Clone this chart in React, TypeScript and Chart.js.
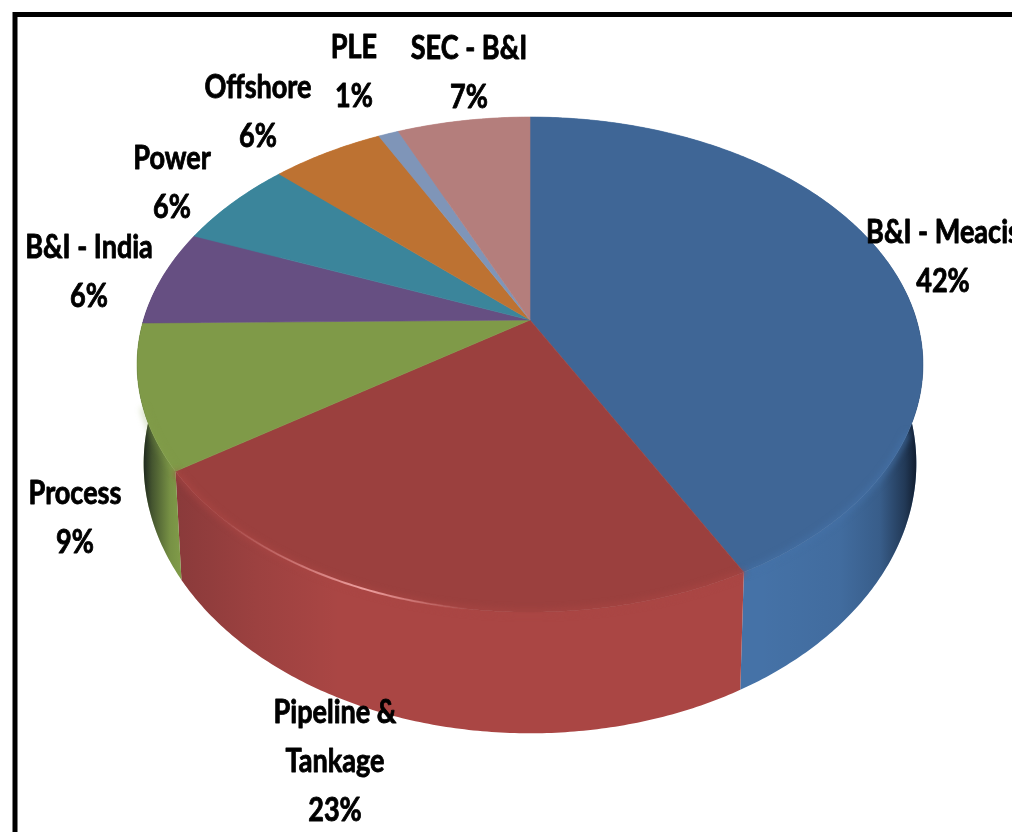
import React, { useEffect, useRef } from "react";
import { Chart, registerables } from "chart.js";

Chart.register(...registerables);

// Data
const categories: (string | string[])[] = [
  "B&I - Meacis",
  ["Pipeline &", "Tankage"],
  "Process",
  "B&I - India",
  "Power",
  "Offshore",
  "PLE",
  "SEC - B&I",
];
const shares = [42.3, 23.1, 9.4, 6.3, 5.9, 5.5, 1.0, 6.5];
const topColors = ["#3F6696", "#9B403E", "#7F9A48", "#664F82", "#3B859B", "#BD7232", "#7F95B8", "#B47E7C"];
const wallColors = ["#4572A7", "#AA4644", "#84A04A", "#71588F", "#4198AF", "#DB843D", "#93A9CF", "#D19392"];

// Layout of the 3D projection and of the labels
const topPlane = { x0: 530, y0: 320, rx: 386.5, ry: 239.5, k: 0.18 };
const basePlane = { x0: 530, y0: 415, rx: 380, ry: 261, k: 0.18 };
const labelCenters = [
  [943, 232],
  [335, 712],
  [75, 493],
  [89, 247],
  [172, 158],
  [258, 87],
  [354, 47],
  [469, 48],
];
const LINE_STEP = 49;
const FONT = 'bold 33px Lato, "Liberation Sans", sans-serif';
const TEXT_SQUEEZE = 0.82;

type Plane = typeof topPlane;
const project = (p: Plane, a: number) => {
  const u = Math.cos(a);
  const v = -Math.sin(a);
  const w = 1 + p.k * v;
  return [p.x0 + (p.rx * u) / w, p.y0 - (p.ry * v) / w];
};
const samples = (start: number, end: number) => {
  const n = Math.max(2, Math.ceil((end - start) / 0.01));
  const out: number[] = [];
  for (let i = 0; i <= n; i++) out.push(start + ((end - start) * i) / n);
  return out;
};

const pie3d = {
  id: "pie3d",
  beforeDatasetDraw(chart: any) {
    const ctx: CanvasRenderingContext2D = chart.ctx;
    const arcs = chart.getDatasetMeta(0).data;
    ctx.save();
    // walls
    arcs.forEach((arc: any, i: number) => {
      const angles = samples(arc.startAngle, arc.endAngle);
      ctx.beginPath();
      angles.forEach((a, j) => {
        const [x, y] = project(topPlane, a);
        j ? ctx.lineTo(x, y) : ctx.moveTo(x, y);
      });
      [...angles].reverse().forEach((a) => {
        const [x, y] = project(basePlane, a);
        ctx.lineTo(x, y);
      });
      ctx.closePath();
      ctx.fillStyle = wallColors[i];
      ctx.fill();
      const g = ctx.createLinearGradient(136, 0, 926, 0);
      const stop = (x: number, al: number) => g.addColorStop((x - 136) / 790, `rgba(5,10,20,${al})`);
      if (i === 1) {
        stop(172, 0.2);
        stop(260, 0.08);
        stop(340, 0);
        stop(926, 0);
      } else {
        stop(142, 0.85);
        stop(152, 0.5);
        stop(170, 0.1);
        stop(185, 0);
        stop(760, 0);
        stop(840, 0.06);
        stop(880, 0.2);
        stop(905, 0.55);
        stop(918, 0.85);
      }
      ctx.fillStyle = g;
      ctx.fill();
    });
    // top surface
    arcs.forEach((arc: any, i: number) => {
      ctx.beginPath();
      ctx.moveTo(topPlane.x0, topPlane.y0);
      samples(arc.startAngle, arc.endAngle).forEach((a) => {
        const [x, y] = project(topPlane, a);
        ctx.lineTo(x, y);
      });
      ctx.closePath();
      ctx.fillStyle = topColors[i];
      ctx.fill();
      ctx.strokeStyle = topColors[i];
      ctx.lineWidth = 0.6;
      ctx.stroke();
    });
    // soft bevel where the top surface meets the front wall
    ctx.filter = "blur(3px)";
    arcs.slice(0, 3).forEach((arc: any, i: number) => {
      const front = samples(Math.max(arc.startAngle, 0.45), Math.min(arc.endAngle, Math.PI - 0.35));
      ctx.beginPath();
      front.forEach((a, j) => {
        const [x, y] = project(topPlane, a);
        j ? ctx.lineTo(x, y) : ctx.moveTo(x, y);
      });
      ctx.strokeStyle = wallColors[i];
      ctx.globalAlpha = i === 2 ? 0.4 : 0.8;
      ctx.lineWidth = 5;
      ctx.stroke();
    });
    ctx.filter = "none";
    ctx.globalAlpha = 1;
    // light along the rim of the second slice
    const rim = arcs[1];
    const hl = ctx.createLinearGradient(220, 0, 470, 0);
    hl.addColorStop(0, "rgba(240,150,150,0)");
    hl.addColorStop(0.58, "rgba(250,175,175,0.85)");
    hl.addColorStop(1, "rgba(240,150,150,0)");
    ctx.beginPath();
    samples(rim.startAngle, rim.endAngle).forEach((a, j) => {
      const [x, y] = project(topPlane, a);
      j ? ctx.lineTo(x, y) : ctx.moveTo(x, y);
    });
    ctx.strokeStyle = hl;
    ctx.lineWidth = 2;
    ctx.stroke();
    ctx.restore();
    return false;
  },
  afterDraw(chart: any) {
    const ctx: CanvasRenderingContext2D = chart.ctx;
    ctx.save();
    // frame
    ctx.strokeStyle = "#000";
    ctx.lineWidth = 5;
    ctx.strokeRect(15, 14.5, 1200, 1200);
    // labels
    ctx.fillStyle = "#000";
    ctx.strokeStyle = "#000";
    ctx.lineWidth = 0.9;
    ctx.lineJoin = "round";
    ctx.font = FONT;
    ctx.textAlign = "center";
    ctx.textBaseline = "middle";
    chart.data.labels.forEach((label: string | string[], i: number) => {
      const lines = [...(Array.isArray(label) ? label : [label]), `${Math.round(shares[i])}%`];
      lines.forEach((t, j) => {
        ctx.save();
        ctx.translate(labelCenters[i][0], labelCenters[i][1] + j * LINE_STEP);
        ctx.scale(TEXT_SQUEEZE, 1);
        ctx.fillText(t, 0, 0);
        ctx.strokeText(t, 0, 0);
        ctx.restore();
      });
    });
    ctx.restore();
  },
};

export default function App() {
  const ref = useRef<HTMLCanvasElement>(null);
  useEffect(() => {
    const chart = new Chart(ref.current!, {
      type: "pie",
      data: {
        labels: categories as any,
        datasets: [{ data: shares, backgroundColor: topColors, borderWidth: 0 }],
      },
      options: {
        animation: false,
        responsive: false,
        plugins: { legend: { display: false }, tooltip: { enabled: false } },
      },
      plugins: [pie3d as any],
    });
    return () => chart.destroy();
  }, []);
  return (
    <div style={{ position: "fixed", left: 0, top: 0, width: 1012, height: 832, background: "#fff", overflow: "hidden" }}>
      <canvas ref={ref} width={1012} height={832} style={{ display: "block" }} />
    </div>
  );
}
